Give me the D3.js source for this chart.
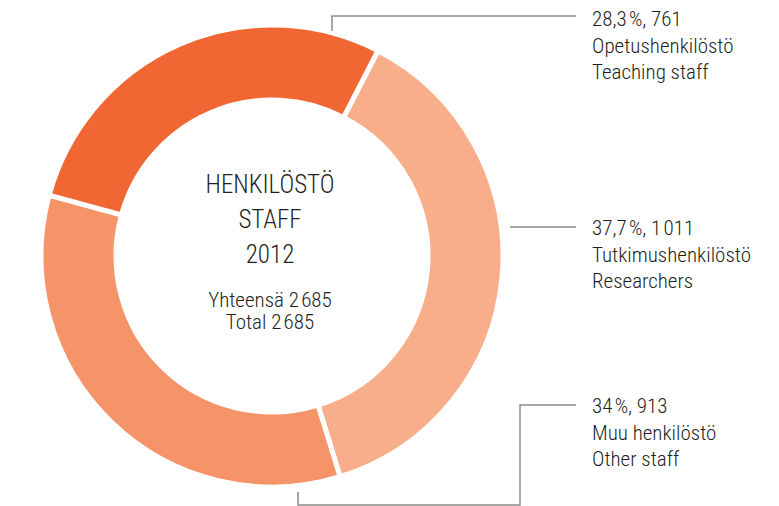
<!DOCTYPE html>
<html>
<head>
<meta charset="utf-8">
<script src="https://cdn.jsdelivr.net/npm/d3@7"></script>
<style>
  body { margin: 0; background: #fff; }
  text { font-family: "Roboto Condensed", "Liberation Sans Narrow", "Liberation Sans", sans-serif; font-weight: 300; fill: #231f20; }
</style>
</head>
<body>
<div id="chart"></div>
<script>
// data
const groups = ["Tutkimushenkilöstö", "Muu henkilöstö", "Opetushenkilöstö"];
const groupsEn = ["Researchers", "Other staff", "Teaching staff"];
const counts = [1011, 913, 761];
const shares = ["37,7\u200a%, 1\u200a011", "34\u200a%, 913", "28,3\u200a%, 761"];
const colors = ["#f8ae8a", "#f59468", "#f06734"];

const width = 779, height = 506;
const cx = 272, cy = 256;
const outerR = 231, innerR = 156;

const svg = d3.select("#chart").append("svg")
  .attr("width", width)
  .attr("height", height);

const pie = d3.pie()
  .sort(null)
  .startAngle(27.3 * Math.PI / 180)
  .endAngle((27.3 + 360) * Math.PI / 180);

const arc = d3.arc().innerRadius(innerR).outerRadius(outerR);

const g = svg.append("g").attr("transform", `translate(${cx},${cy})`);

g.selectAll("path")
  .data(pie(counts))
  .enter()
  .append("path")
  .attr("d", arc)
  .attr("fill", (d, i) => colors[i])
  .attr("stroke", "#fff")
  .attr("stroke-width", 5);

// leader lines
const lineColor = "#8a8a87";
const leaders = [
  [[510, 227], [576, 227]],
  [[298, 492], [298, 505], [520, 505], [520, 405], [576, 405]],
  [[332, 31], [332, 16], [576, 16]]
];
svg.selectAll(".leader")
  .data(leaders)
  .enter()
  .append("path")
  .attr("class", "leader")
  .attr("d", d3.line())
  .attr("fill", "none")
  .attr("stroke", lineColor)
  .attr("stroke-width", 1.5);

// labels
const labelY = [235, 413, 26];
const lineH = 26.5;
groups.forEach((name, i) => {
  const t = svg.append("text")
    .attr("x", 592)
    .attr("y", labelY[i])
    .style("font-size", "21px");
  [shares[i], name, groupsEn[i]].forEach((s, k) => {
    t.append("tspan").attr("x", 592).attr("dy", k === 0 ? 0 : lineH).text(s);
  });
});

// centre title
const centre = svg.append("g").attr("text-anchor", "middle");
[["HENKILÖSTÖ", 193], ["STAFF", 228], ["2012", 263]].forEach(([s, y]) => {
  centre.append("text").attr("x", 270).attr("y", y).style("font-size", "25px").text(s);
});
[["Yhteensä 2\u200a685", 307], ["Total 2\u200a685", 329]].forEach(([s, y]) => {
  centre.append("text").attr("x", 270).attr("y", y).style("font-size", "21px").text(s);
});
</script>
</body>
</html>
